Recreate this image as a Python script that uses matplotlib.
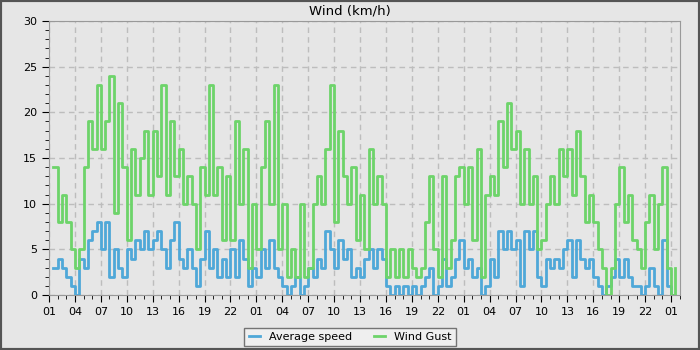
import numpy as np
from matplotlib import pyplot as plt
from matplotlib.patches import Rectangle
from matplotlib.ticker import MultipleLocator

# half-hourly readings, starting 01:30 on day one
avg_speed = [3, 4, 3, 2, 1, 0, 4, 3, 6, 7, 8, 5, 8, 2, 5, 3, 2, 5, 4, 6,
             5, 7, 5, 6, 7, 5, 3, 6, 8, 4, 3, 5, 3, 1, 4, 7, 3, 5, 2, 4,
             2, 5, 2, 6, 4, 1, 3, 2, 5, 3, 6, 3, 2, 1, 0, 1, 2, 0, 1, 3,
             2, 4, 3, 7, 5, 3, 6, 4, 5, 2, 3, 2, 4, 5, 3, 5, 4, 1, 0, 1,
             0, 1, 0, 1, 0, 1, 2, 3, 0, 1, 4, 1, 2, 4, 6, 3, 4, 2, 3, 0,
             1, 4, 2, 7, 5, 7, 5, 6, 1, 7, 5, 7, 2, 1, 4, 3, 4, 3, 5, 6,
             2, 6, 4, 3, 4, 2, 1, 0, 1, 2, 4, 2, 4, 2, 1, 1, 0, 1, 3, 1,
             0, 6, 1, 0, 0]

wind_gust = [14, 8, 11, 8, 5, 3, 5, 14, 19, 16, 23, 16, 19, 24, 9, 21, 14, 6, 16, 11,
             15, 18, 11, 18, 13, 23, 11, 19, 13, 16, 10, 13, 10, 5, 14, 11, 23, 11, 14, 6,
             13, 6, 19, 10, 16, 3, 10, 5, 14, 19, 10, 23, 5, 10, 2, 5, 2, 10, 2, 3,
             10, 13, 10, 16, 23, 8, 18, 13, 10, 14, 6, 11, 5, 16, 10, 13, 10, 2, 5, 2,
             5, 2, 5, 3, 2, 3, 8, 13, 5, 2, 13, 3, 6, 13, 14, 10, 14, 6, 16, 2,
             11, 13, 11, 19, 14, 21, 16, 18, 10, 16, 10, 13, 5, 6, 10, 13, 10, 16, 13, 16,
             11, 18, 13, 8, 11, 8, 5, 3, 0, 3, 10, 14, 8, 11, 6, 5, 3, 8, 11, 5,
             10, 14, 3, 0, 3]

tick_labels = ['01', '04', '07', '10', '13', '16', '19', '22'] * 3 + ['01']


def windChart():
    bg = '#e6e6e6'
    fig = plt.figure(figsize=(7, 3.5), dpi=100, facecolor=bg)
    ax = fig.add_axes([0.07, 0.157, 0.901, 0.783], facecolor=bg)

    hours = 0.5 + 0.5 * np.arange(len(avg_speed))

    ax.plot(hours, avg_speed, color='#4fa8d8', lw=2,
            drawstyle='steps-post', label='Average speed')
    ax.plot(hours, wind_gust, color='#6dd46a', lw=2,
            drawstyle='steps-post', label='Wind Gust')

    ax.set_xlim(0, 73)
    ax.set_ylim(0, 30)
    ax.set_xticks(np.arange(0, 73, 3))
    ax.set_xticklabels(tick_labels)
    ax.xaxis.set_minor_locator(MultipleLocator(1))
    ax.yaxis.set_major_locator(MultipleLocator(5))
    ax.yaxis.set_minor_locator(MultipleLocator(1))
    ax.tick_params(labelsize=8, length=5, direction='out')
    ax.tick_params(which='minor', length=3)

    ax.grid(True, color='#bdbdbd', linestyle='--', lw=1, dashes=(4, 3))
    ax.set_axisbelow(True)
    for side in ['left', 'top', 'right', 'bottom']:
        ax.spines[side].set_color('#999999')

    # title is centred on the whole figure, not the axes
    fig.text(0.5, 0.968, 'Wind (km/h)', ha='center', va='center',
             fontsize=9.5)

    leg = fig.legend(loc='center', bbox_to_anchor=(0.5, 0.037), ncol=2,
                     fontsize=8, frameon=True, fancybox=False,
                     handlelength=1.0, columnspacing=2.0)
    leg.get_frame().set_edgecolor('#555555')
    leg.get_frame().set_facecolor('#f2f2f2')

    fig.patches.append(Rectangle((0, 0), 1, 1, transform=fig.transFigure,
                                 fill=False, edgecolor='#555555', lw=3))

    fig.savefig('out.png', dpi=100, facecolor=bg)


def main():
    windChart()


if __name__ == "__main__":
    main()
